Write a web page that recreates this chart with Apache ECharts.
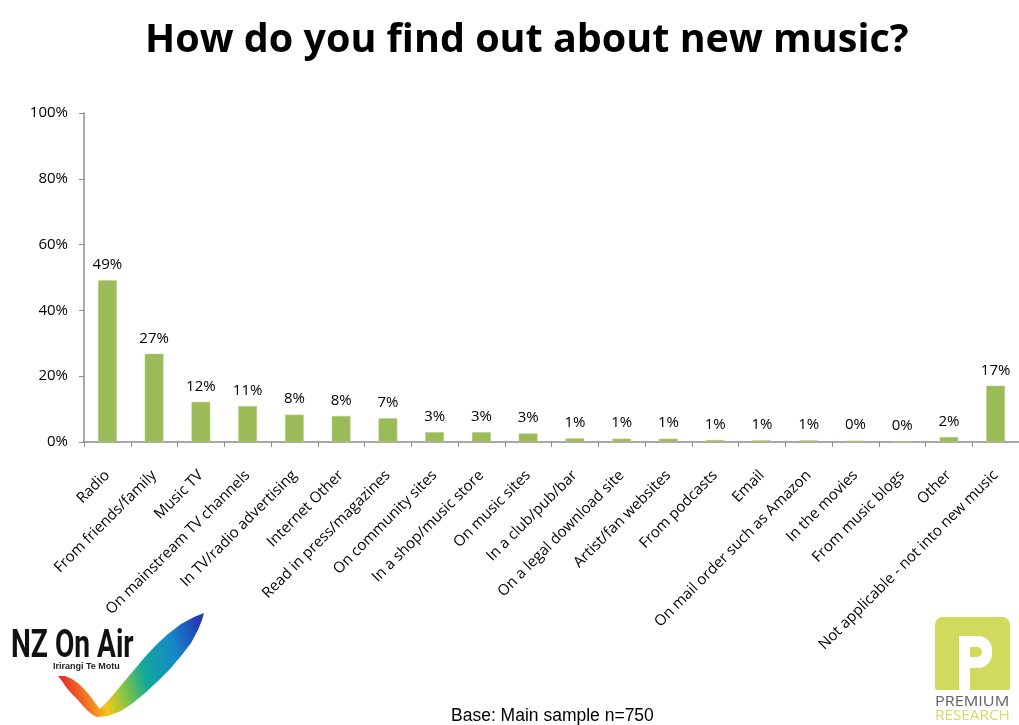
<!DOCTYPE html>
<html>
<head>
<meta charset="utf-8">
<script src="https://cdn.jsdelivr.net/npm/echarts@6/dist/echarts.min.js"></script>
<style>
  html, body { margin: 0; padding: 0; background: #fff; }
  #chart { width: 1019px; height: 725px; }
</style>
</head>
<body>
<div id="chart"></div>
<script>
// Survey answers: where people hear about new music (share of respondents, %)
const categories = [
  'Radio', 'From friends/family', 'Music TV', 'On mainstream TV channels',
  'In TV/radio advertising', 'Internet Other', 'Read in press/magazines',
  'On community sites', 'In a shop/music store', 'On music sites',
  'In a club/pub/bar', 'On a legal download site', 'Artist/fan websites',
  'From podcasts', 'Email', 'On mail order such as Amazon', 'In the movies',
  'From music blogs', 'Other', 'Not applicable - not into new music'
];
const shares = [49.2, 26.8, 12.2, 10.9, 8.3, 7.9, 7.2, 3.0, 3.0, 2.6,
                1.1, 1.0, 1.0, 0.6, 0.5, 0.5, 0.4, 0.1, 1.5, 17.1];
const yTicks = [0, 20, 40, 60, 80, 100];

// Outline of the NZ On Air colour swoosh (logo artwork, pixel coordinates)
const swooshPoints = [
  [58, 676], [62, 681], [66, 687], [72, 694], [78, 700], [83, 706], [88, 711], [93, 715], [97, 717],
  [108, 716], [121, 711], [133, 703], [145, 693], [158, 681], [170, 669], [181, 656],
  [191, 643], [198, 630], [202, 620], [204, 613],
  [194, 617], [181, 624], [168, 634], [156, 645], [145, 657], [134, 670], [123, 683],
  [113, 695], [105, 704], [100, 709],
  [96, 704], [91, 697], [85, 690], [79, 684], [72, 679], [65, 676]
];

const chart = echarts.init(document.getElementById('chart'), null, { renderer: 'canvas' });

chart.setOption({
  backgroundColor: '#ffffff',
  animation: false,
  title: {
    text: 'How do you find out about new music?',
    left: 140,
    top: 16,
    textStyle: { fontFamily: 'Open Sans', fontWeight: 'bold', fontSize: 39.5, color: '#000' }
  },
  grid: { left: 84, right: 0, top: 113, bottom: 283, containLabel: false },
  xAxis: {
    type: 'category',
    data: categories,
    axisLine: { lineStyle: { color: '#8c8c8c', width: 1.5 } },
    axisTick: { show: true, length: 5, lineStyle: { color: '#8c8c8c' } },
    axisLabel: {
      interval: 0, rotate: 45, margin: 31,
      fontFamily: 'Open Sans', fontSize: 15, color: '#000'
    }
  },
  yAxis: {
    type: 'value',
    min: yTicks[0],
    max: yTicks[yTicks.length - 1],
    interval: yTicks[1] - yTicks[0],
    splitLine: { show: false },
    axisLine: { show: true, lineStyle: { color: '#8c8c8c', width: 1.5 } },
    axisTick: { show: true, length: 5, lineStyle: { color: '#8c8c8c' } },
    axisLabel: {
      formatter: '{value}%', margin: 16,
      fontFamily: 'Open Sans', fontSize: 15, color: '#000'
    }
  },
  series: [{
    type: 'bar',
    data: shares,
    barWidth: '40%',
    itemStyle: { color: '#9bbb59', borderColor: '#b5cf86', borderWidth: 0.5 },
    label: {
      show: true, position: 'top', distance: 8,
      formatter: p => Math.round(p.value) + '%',
      fontFamily: 'Open Sans', fontSize: 15, color: '#000'
    }
  }],
  graphic: [
    // footnote
    {
      type: 'text', x: 451, y: 716,
      style: {
        text: 'Base: Main sample n=750', font: '17.5px "Liberation Sans"', fill: '#000',
        align: 'left', verticalAlign: 'middle'
      }
    },
    // NZ On Air logo
    {
      type: 'polygon', z: 10,
      shape: { points: swooshPoints },
      style: {
        fill: {
          type: 'linear', x: 0, y: 0.6, x2: 1, y2: 0.2,
          colorStops: [
            { offset: 0.00, color: '#e5262b' },
            { offset: 0.12, color: '#f26a22' },
            { offset: 0.25, color: '#f3c81c' },
            { offset: 0.38, color: '#8cc63f' },
            { offset: 0.55, color: '#12a89a' },
            { offset: 0.78, color: '#1688c9' },
            { offset: 1.00, color: '#2438b0' }
          ]
        }
      }
    },
    {
      type: 'text', x: 11, y: 647, scaleX: 0.74, z: 11,
      style: {
        text: 'NZ On Air', font: 'bold 38px Roboto', fill: '#111',
        align: 'left', verticalAlign: 'middle'
      }
    },
    {
      type: 'text', x: 53, y: 667, z: 11,
      style: {
        text: 'Irirangi Te Motu', font: 'bold 9px "Liberation Sans"', fill: '#222',
        align: 'left', verticalAlign: 'middle'
      }
    },
    // Premium Research logo
    {
      type: 'rect', shape: { x: 935, y: 617, width: 75, height: 73, r: [8, 8, 2, 2] },
      style: { fill: '#d0da5c' }
    },
    {
      type: 'rect', shape: { x: 959, y: 636, width: 11, height: 54 },
      style: { fill: '#ffffff' }
    },
    {
      type: 'rect', shape: { x: 959, y: 636, width: 33, height: 32, r: [0, 14, 14, 0] },
      style: { fill: '#ffffff' }
    },
    {
      type: 'rect', shape: { x: 970, y: 647, width: 12, height: 10, r: [0, 5, 5, 0] },
      style: { fill: '#d0da5c' }
    },
    {
      type: 'text', x: 935, y: 702, scaleX: 1.08,
      style: {
        text: 'PREMIUM', font: '15px "Open Sans"', fill: '#5f6062',
        align: 'left', verticalAlign: 'middle'
      }
    },
    {
      type: 'text', x: 935, y: 716, scaleX: 1.02,
      style: {
        text: 'RESEARCH', font: '15px "Open Sans"', fill: '#d4dd66',
        align: 'left', verticalAlign: 'middle'
      }
    }
  ]
});
</script>
</body>
</html>
